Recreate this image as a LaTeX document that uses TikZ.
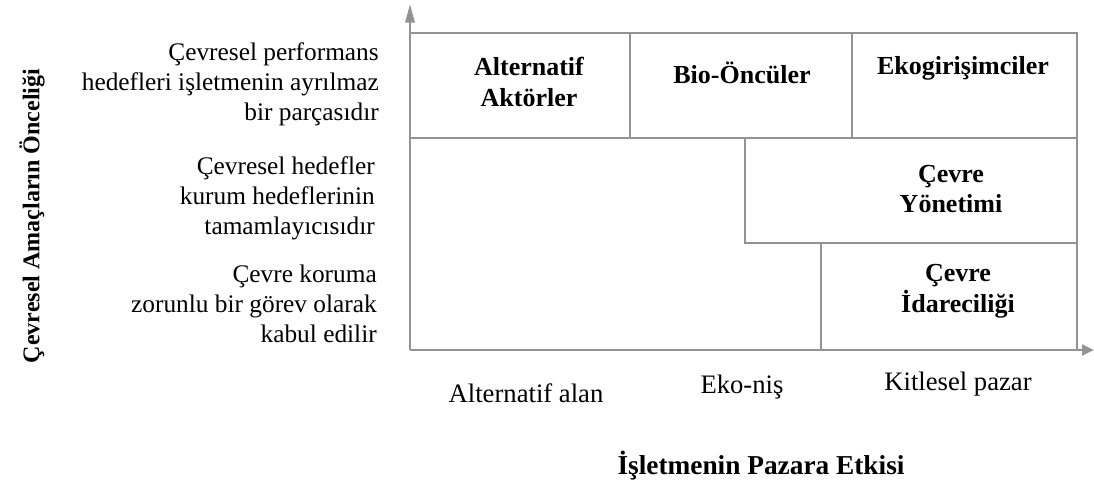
\documentclass[tikz,border=0pt]{standalone}
\usepackage{fontspec}
\setmainfont{Liberation Serif}
\usetikzlibrary{arrows.meta}

\tikzset{
  frame/.style={draw=gray!85, line width=2pt},
  axis/.style={draw=gray!85, line width=2pt},
  rowtext/.style={anchor=east, inner sep=0.75pt, align=right, font=\fontsize{19}{22.5}\selectfont},
  boxtext/.style={inner sep=0.75pt, align=center, font=\fontsize{19.5}{23}\selectfont\bfseries},
  coltext/.style={inner sep=0.75pt, font=\fontsize{20}{24}\selectfont},
  axistext/.style={inner sep=0.75pt, font=\fontsize{20.5}{24}\selectfont\bfseries}
}

\begin{document}
\begin{tikzpicture}[x=0.75pt,y=0.75pt,yscale=-1,xscale=1]
        \useasboundingbox (0,0) rectangle (1094,482);

        %Shape: Rectangle
        \draw [frame] (410,33) rectangle (630,138) ;
        %Shape: Rectangle
        \draw [frame] (630,33) rectangle (852,138) ;
        %Shape: Rectangle
        \draw [frame] (852,33) rectangle (1077,138) ;
        %Shape: Rectangle
        \draw [frame] (745,138) rectangle (1077,243) ;
        %Shape: Rectangle
        \draw [frame] (821,243) rectangle (1077,350) ;

        %Axes
        \coordinate (origin) at (410,350) ;
        \coordinate (ytip) at (410,4) ;
        \coordinate (xtip) at (1094,350) ;
        \draw [axis, -{Triangle[length=14pt,width=7pt]}] (origin) -- (ytip) ;
        \draw [axis, -{Triangle[length=9pt,width=8pt]}] (origin) -- (xtip) ;

        % Text Node
        \node [boxtext] (altakt) at (529,82) {Alternatif\\Aktörler};
        % Text Node
        \node [boxtext] (bioonc) at (742,73) {Bio-Öncüler};
        % Text Node
        \node [boxtext] (ekogir) at (963,68) {Ekogirişimciler};
        % Text Node
        \node [boxtext] (cyonet) at (951,189) {Çevre\\Yönetimi};
        % Text Node
        \node [boxtext] (cidare) at (958,291) {Çevre\\İdareciliği};

        % Text Node
        \node [rowtext] (rowtop) at (380,84) {Çevresel performans\\hedefleri işletmenin ayrılmaz\\bir parçasıdır};
        % Text Node
        \node [rowtext] (rowmid) at (376,198) {Çevresel hedefler\\kurum hedeflerinin\\tamamlayıcısıdır};
        % Text Node
        \node [rowtext] (rowbot) at (378,304) {Çevre koruma\\zorunlu bir görev olarak\\kabul edilir};

        % Text Node
        \node [coltext] (colalt) at (526,393) {Alternatif alan};
        % Text Node
        \node [coltext] (coleko) at (742,387) {Eko-niş};
        % Text Node
        \node [coltext] (colkit) at (958,384) {Kitlesel pazar};

        % Text Node
        \node [axistext] (xlabel) at (761,466) {İşletmenin Pazara Etkisi};
        % Text Node
        \node [axistext, font=\fontsize{18}{22}\selectfont\bfseries, rotate=90] (ylabel) at (32,216) {Çevresel Amaçların Önceliği};

\end{tikzpicture}
\end{document}
